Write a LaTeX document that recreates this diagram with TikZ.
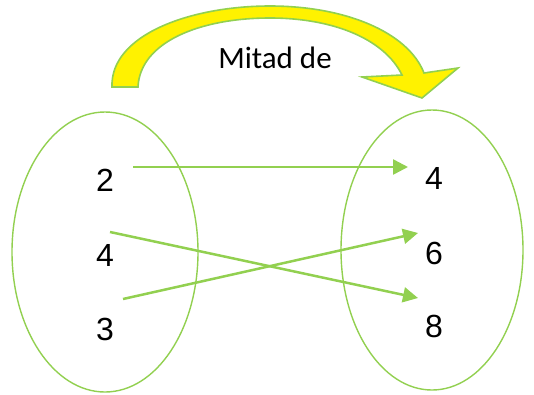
\documentclass[tikz,border=0pt]{standalone}
\usepackage{fontspec}
\setmainfont{Liberation Sans}
\newfontfamily\calfont{Carlito}
\usetikzlibrary{arrows.meta}
\definecolor{lgreen}{HTML}{92D050}
\begin{document}
\begin{tikzpicture}[x=1pt,y=-1pt,
  setell/.style={draw=lgreen,line width=1.4pt},
  maparrow/.style={draw=lgreen,line width=2.5pt,-{Triangle[length=15pt,width=15pt]}},
  num/.style={font=\fontsize{32}{32}\selectfont,inner sep=0pt},
  bigarrow/.style={fill=yellow,draw=lgreen,line width=1.6pt,line join=miter}]
\useasboundingbox (0,0) rectangle (534,394);
% sets
\draw[setell] (105,252) ellipse [x radius=93, y radius=140];
\draw[setell] (432,250) ellipse [x radius=91, y radius=140];
% numbers
\node[num] (a2) at (105,180) {2};
\node[num] (a4) at (105,255) {4};
\node[num] (a3) at (105,329) {3};
\node[num] (b4) at (434,178) {4};
\node[num] (b6) at (434,253) {6};
\node[num] (b8) at (434,326) {8};
% arrow end points
\coordinate (s2) at (133,167);
\coordinate (e4) at (408,167);
\coordinate (s4) at (110,232);
\coordinate (e8) at (418,298);
\coordinate (s3) at (123,299);
\coordinate (e6) at (418,233);
\draw[maparrow] (s2) -- (e4);
\draw[maparrow] (s4) -- (e8);
\draw[maparrow] (s3) -- (e6);
% curved arrow
\draw[bigarrow] (112,87) .. controls (110,35) and (190,6) .. (270,6)
  .. controls (345,6) and (408,32) .. (424,73)
  -- (458,68) -- (422,98) -- (362,77) -- (402,75)
  .. controls (385,40) and (335,18) .. (270,18)
  .. controls (200,18) and (140,42) .. (138,87) -- cycle;
\node[font=\calfont\fontsize{31}{31}\selectfont,inner sep=0pt] (lbl) at (275,58) {Mitad de};
\end{tikzpicture}
\end{document}
